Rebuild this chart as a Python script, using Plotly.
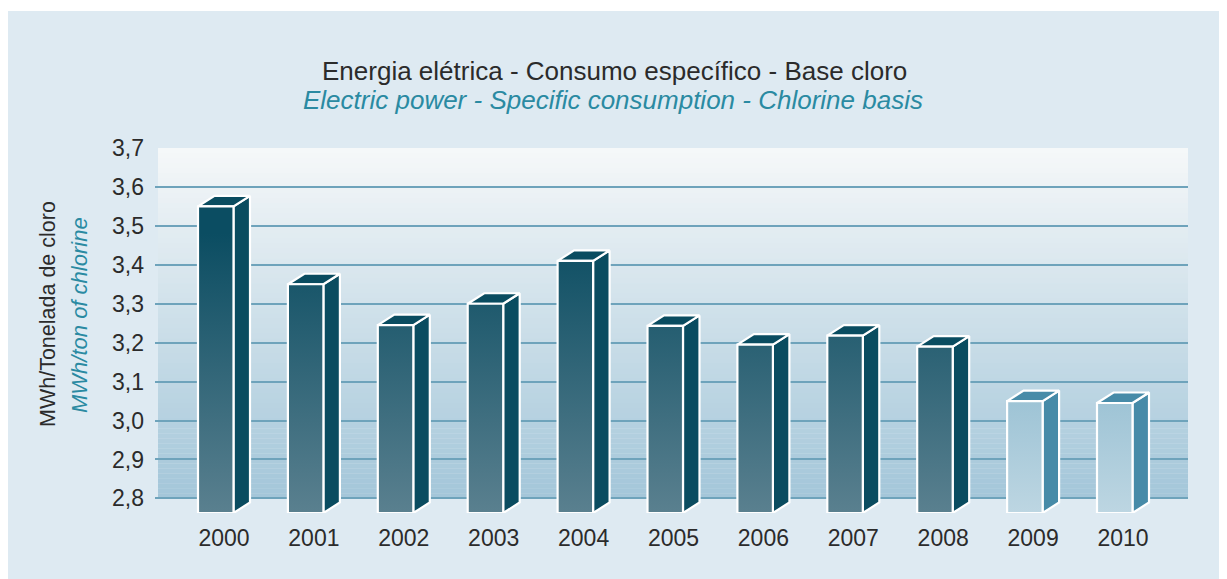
import plotly.graph_objects as go

# ---------------- data ----------------
years = [2000, 2001, 2002, 2003, 2004, 2005, 2006, 2007, 2008, 2009, 2010]
values = [3.55, 3.35, 3.245, 3.30, 3.41, 3.243, 3.195, 3.218, 3.19, 3.05, 3.045]
highlight = [False] * 9 + [True, True]   # 2009, 2010 drawn in light style
yticks = [2.8, 2.9, 3.0, 3.1, 3.2, 3.3, 3.4, 3.5, 3.6, 3.7]

title1 = "Energia elétrica - Consumo específico - Base cloro"
title2 = "Electric power - Specific consumption - Chlorine basis"
ytitle1 = "MWh/Tonelada de cloro"
ytitle2 = "MWh/ton of chlorine"

# ---------------- geometry / style ----------------
# page is offset by the default 8px body margin
OFF = 8
W, H = 1227, 579
L, R, T, B = 155 - OFF, 1188 - OFF, 148 - OFF, 513 - OFF
YMIN, YMAX = 2.7625, 3.7
px_per_unit = (B - T) / (YMAX - YMIN)
px_per_year = 89.9
XMIN = years[0] - (224 - OFF - L) / px_per_year
XMAX = XMIN + (R - L) / px_per_year

front_w = 35.5 / px_per_year
depth_x = 16.5 / px_per_year
depth_y = 10.5 / px_per_unit
half = (front_w + depth_x) / 2

TEAL = "#2a8aa2"
TXT = "#2b2b2b"
FONT = "Liberation Sans"


def polys(sel, kind):
    xs, ys = [], []
    for yr, v, h in zip(years, values, highlight):
        if h != sel:
            continue
        x0 = yr - half
        x1 = x0 + front_w
        x2 = x1 + depth_x
        if kind == "front":
            px = [x0, x1, x1, x0, x0]
            py = [YMIN, YMIN, v, v, YMIN]
        elif kind == "side":
            px = [x1, x2, x2, x1, x1]
            py = [YMIN, YMIN + depth_y, v + depth_y, v, YMIN]
        else:  # top
            px = [x0, x1, x2, x0 + depth_x, x0]
            py = [v, v, v + depth_y, v + depth_y, v]
        xs += px + [None]
        ys += py + [None]
    return xs, ys


fig = go.Figure()

# dark bars
for kind in ["side", "top"]:
    xs, ys = polys(False, kind)
    fig.add_trace(go.Scatter(x=xs, y=ys, mode="lines", fill="toself",
                             fillcolor="#0a4c60",
                             line=dict(color="white", width=2.2),
                             hoverinfo="skip", showlegend=False))
xs, ys = polys(False, "front")
fig.add_trace(go.Scatter(x=xs, y=ys, mode="lines", fill="toself",
                         fillgradient=dict(type="vertical",
                                           colorscale=[[0, "#5a808f"], [1, "#0b4d62"]],
                                           start=YMIN, stop=3.48),
                         line=dict(color="white", width=2.2),
                         hoverinfo="skip", showlegend=False))
# light bars
for kind in ["side", "top"]:
    xs, ys = polys(True, kind)
    fig.add_trace(go.Scatter(x=xs, y=ys, mode="lines", fill="toself",
                             fillcolor="#478ba8",
                             line=dict(color="white", width=2.2),
                             hoverinfo="skip", showlegend=False))
xs, ys = polys(True, "front")
fig.add_trace(go.Scatter(x=xs, y=ys, mode="lines", fill="toself",
                         fillgradient=dict(type="vertical",
                                           colorscale=[[0, "#bdd6e2"], [1, "#9dc3d5"]],
                                           start=YMIN, stop=3.06),
                         line=dict(color="white", width=2.2),
                         hoverinfo="skip", showlegend=False))

# ---------------- background ----------------
shapes = []
pw, ph = R - L, B - T


def px_x(p):   # page pixel x -> paper
    return (p - OFF - L) / pw


def px_y(p):   # page pixel y -> paper
    return (B - (p - OFF)) / ph


shapes.append(dict(type="rect", xref="paper", yref="paper",
                   x0=px_x(7), x1=px_x(W + 20),
                   y0=px_y(H + 20), y1=px_y(11),
                   fillcolor="#deeaf2", line=dict(width=0), layer="below"))


def mix(c1, c2, t):
    a = [int(c1[i:i + 2], 16) for i in (1, 3, 5)]
    b = [int(c2[i:i + 2], 16) for i in (1, 3, 5)]
    return "#" + "".join(f"{round(a[i] + (b[i] - a[i]) * t):02x}" for i in range(3))


N = 70
top_c, bot_c = "#f6f8f9", "#a3c6d9"
for i in range(N):
    y0 = 2.8 + (YMAX - 2.8) * i / N
    y1 = 2.8 + (YMAX - 2.8) * (i + 1) / N
    t = 1 - (i + 0.5) / N
    shapes.append(dict(type="rect", xref="x domain", yref="y",
                       x0=3 / pw, x1=1, y0=y0, y1=y1 + 0.0005,
                       fillcolor=mix(top_c, bot_c, t), line=dict(width=0),
                       layer="below"))

ann = []
ann.append(dict(text=title1, xref="paper", yref="paper",
                x=px_x(614), y=px_y(71), showarrow=False,
                xanchor="center", yanchor="middle",
                font=dict(family=FONT, size=26, color=TXT)))
ann.append(dict(text=f"<i>{title2}</i>", xref="paper", yref="paper",
                x=px_x(613), y=px_y(100), showarrow=False,
                xanchor="center", yanchor="middle",
                font=dict(family=FONT, size=26, color=TEAL)))
ann.append(dict(text=ytitle1, xref="paper", yref="paper",
                x=px_x(48), y=px_y(314), showarrow=False, textangle=-90,
                xanchor="center", yanchor="middle",
                font=dict(family=FONT, size=21.5, color=TXT)))
ann.append(dict(text=f"<i>{ytitle2}</i>", xref="paper", yref="paper",
                x=px_x(79), y=px_y(315), showarrow=False, textangle=-90,
                xanchor="center", yanchor="middle",
                font=dict(family=FONT, size=22, color=TEAL)))

fig.update_layout(
    width=W, height=H,
    margin=dict(l=L, r=W - R, t=T, b=H - B, pad=0),
    paper_bgcolor="white",
    plot_bgcolor="rgba(0,0,0,0)",
    separators=",.",
    showlegend=False,
    shapes=shapes,
    annotations=ann,
    xaxis=dict(range=[XMIN, XMAX], tickvals=years, ticktext=[str(y) for y in years],
               showgrid=False, zeroline=False, showline=False,
               ticks="outside", ticklen=4, tickcolor="rgba(0,0,0,0)",
               tickfont=dict(family=FONT, size=23, color=TXT), fixedrange=True),
    yaxis=dict(range=[YMIN, YMAX], tickvals=yticks, tickformat=".1f",
               showgrid=True, gridcolor="#6ea3bb", gridwidth=1.6,
               zeroline=False, showline=False,
               ticks="", ticklabelstandoff=10,
               tickfont=dict(family=FONT, size=23, color=TXT), fixedrange=True),
)

fig.write_html("out.html")
